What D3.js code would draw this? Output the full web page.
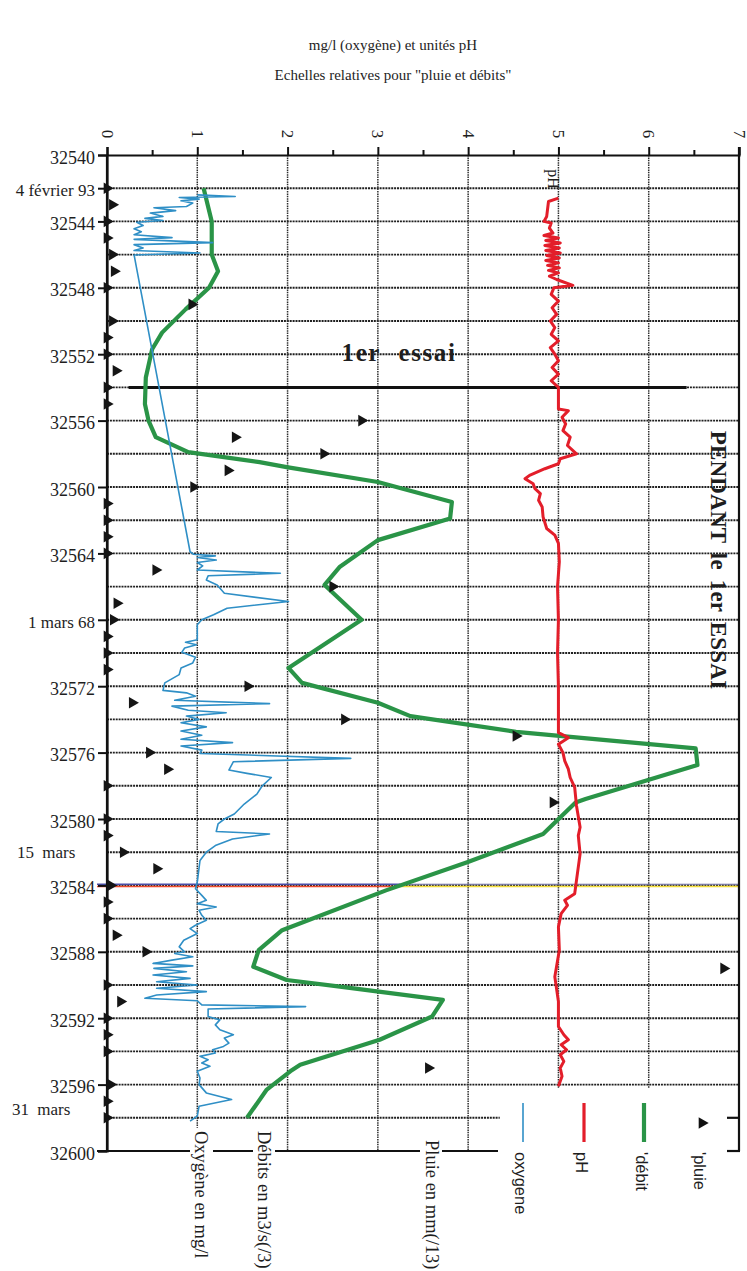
<!DOCTYPE html>
<html>
<head>
<meta charset="utf-8">
<script src="https://cdn.jsdelivr.net/npm/d3@7"></script>
<style>
  html, body { margin: 0; padding: 0; background: #fff; }
  svg { display: block; }
  text { font-family: "Liberation Serif", "Times New Roman", serif; fill: #1e1e1e; }
  .sans { font-family: "Liberation Sans", Arial, sans-serif; }
</style>
</head>
<body>
<svg id="chart" width="747" height="1271"></svg>
<script>
// ---- Data --------------------------------------------------------------
// Horizontal scale (mg/l, pH units, relative rain / flow)
const valueTicks = [0, 1, 2, 3, 4, 5, 6, 7];
const valueTickLabels = ["0", "1", "2", "3", "4", "5", "6", "7"];
const valueMinorTicks = [0.5, 1.5, 2.5, 3.5, 4.5, 5.5, 6.5];

// Vertical scale (day serial numbers)
const dayTicks = [32540, 32542, 32544, 32548, 32552, 32556, 32560, 32564, 32568,
                  32572, 32576, 32580, 32584, 32588, 32592, 32596, 32600];
const dayTickLabels = ["32540", "4 février 93", "32544", "32548", "32552", "32556", "32560",
                       "32564", "1 mars 68", "32572", "32576", "32580", "32584", "32588",
                       "32592", "32596", "32600"];
const dateNoteDays = [32582, 32597.5];
const dateNoteLabels = ["15 mars", "31 mars"];

// Rain (mm / 13), one reading per day
const pluie = [
  [32542,0],[32543,0.06],[32544,0],[32545,0],[32546,0.06],[32547,0.08],[32548,0],
  [32549,0.94],[32550,0.06],[32551,0],[32552,0],[32553,0.10],[32554,0],[32555,0],
  [32556,2.82],[32557,1.42],[32558,2.40],[32559,1.34],[32560,0.96],[32561,0],[32562,0],
  [32563,0],[32564,0],[32565,0.54],[32566,2.50],[32567,0.11],[32568,0.07],[32569,0],
  [32570,0],[32571,0],[32572,1.56],[32573,0.28],[32574,2.63],[32575,4.53],[32576,0.47],
  [32577,0.67],[32578,0],[32579,4.94],[32580,0],[32581,0],[32582,0.18],[32583,0.55],
  [32584,0.04],[32585,0],[32586,0],[32587,0.10],[32588,0.43],[32589,6.83],[32590,0],
  [32591,0.15],[32592,0],[32593,0],[32594,0],[32595,3.56],[32596,0.04],[32597,0],[32598,0]
];

// Flow (m3/s / 3)
const debit = [
  [32542,1.07],[32544,1.16],[32546,1.16],[32547,1.23],[32548,1.13],[32549.3,0.87],
  [32550.7,0.61],[32551.7,0.50],[32553.4,0.43],[32555,0.42],[32556,0.46],[32557,0.54],
  [32557.9,0.90],[32558.5,1.69],[32558.8,1.99],[32559.7,3.00],[32560.9,3.82],[32561.9,3.80],
  [32563.2,3.00],[32564.8,2.58],[32565.9,2.41],[32568,2.82],[32570.9,2.01],[32571.8,2.16],
  [32573,3.00],[32573.8,3.36],[32574.75,4.53],[32575.75,6.52],[32576.75,6.54],[32578.8,5.30],
  [32579,5.19],[32580.9,4.83],[32582.6,3.99],[32584.3,3.09],[32586.7,1.94],[32587.9,1.68],
  [32588.9,1.62],[32589.7,1.99],[32590.1,2.58],[32590.9,3.72],[32591.9,3.60],[32593.3,3.02],
  [32594.8,2.14],[32595.2,2.03],[32596.3,1.77],[32598,1.55]
];

// Dissolved oxygen (mg/l)
const oxygene = [
  [32542.40,1.00],[32542.50,1.42],[32542.56,0.80],[32542.66,1.02],[32542.76,0.82],[32542.90,0.95],
  [32543.10,0.88],[32543.18,0.52],[32543.35,0.76],[32543.50,0.48],[32543.70,0.62],[32543.82,0.42],
  [32543.95,0.62],[32544.05,0.33],[32544.25,0.40],[32544.45,0.30],[32544.62,0.38],[32544.80,0.30],
  [32544.98,0.72],[32545.08,0.30],[32545.28,1.17],[32545.40,0.30],[32545.60,0.40],[32545.75,0.30],
  [32545.90,1.03],[32546.02,0.30],
  [32563.90,0.92],[32564.05,0.96],[32564.15,1.20],[32564.25,1.00],[32564.40,1.21],[32564.55,1.00],
  [32564.75,1.06],[32565.00,1.00],[32565.20,1.92],[32565.35,1.12],[32565.60,1.10],[32565.90,1.22],
  [32566.40,1.30],[32566.90,2.01],[32567.30,1.33],[32567.70,1.18],[32568.00,1.05],[32568.30,1.00],
  [32569.20,1.00],[32569.35,0.87],[32569.50,0.99],[32569.70,0.86],[32569.95,0.83],[32570.25,0.98],
  [32570.60,0.95],[32570.90,0.82],[32571.30,0.80],[32571.80,0.64],[32572.25,0.62],[32572.40,0.88],
  [32572.60,0.98],[32572.85,0.75],[32573.05,1.80],[32573.20,0.72],[32573.45,0.90],[32573.60,1.32],
  [32573.80,0.88],[32574.00,1.02],[32574.20,0.82],[32574.45,1.10],[32574.70,0.82],[32574.95,1.05],
  [32575.20,0.82],[32575.40,1.39],[32575.60,0.82],[32575.85,1.05],[32576.05,1.03],[32576.35,2.70],
  [32576.55,1.40],[32577.05,1.35],[32577.25,1.55],[32577.50,1.82],[32578.00,1.72],[32578.50,1.66],
  [32579.10,1.52],[32579.70,1.41],[32580.00,1.30],[32580.30,1.23],[32580.75,1.21],[32580.90,1.80],
  [32581.20,1.39],[32581.60,1.20],[32582.00,1.10],[32582.50,1.03],[32583.80,1.00],[32584.20,0.98],
  [32584.60,1.05],[32584.90,1.10],[32585.10,1.00],[32585.30,1.21],[32585.50,1.02],[32585.80,1.05],
  [32586.10,1.10],[32586.40,0.98],[32586.60,0.92],[32586.90,1.00],[32587.30,0.85],[32587.70,0.80],
  [32588.00,0.86],[32588.10,0.75],[32588.30,0.95],[32588.50,0.72],[32588.70,0.51],[32588.85,0.95],
  [32589.00,0.52],[32589.20,0.88],[32589.40,0.51],[32589.60,0.92],[32589.80,0.55],[32590.00,1.00],
  [32590.20,0.55],[32590.40,1.10],[32590.60,0.55],[32590.80,0.42],[32590.95,1.00],[32591.20,1.05],
  [32591.30,2.20],[32591.45,1.12],[32591.90,1.12],[32592.10,1.25],[32592.40,1.20],[32592.70,1.25],
  [32593.00,1.40],[32593.20,1.30],[32593.50,1.35],[32593.70,1.29],[32593.90,1.17],[32594.10,1.20],
  [32594.30,1.03],[32594.50,1.12],[32594.70,1.05],[32594.90,1.14],[32595.20,1.00],[32595.60,1.03],
  [32596.00,1.02],[32596.50,1.10],[32596.90,1.38],[32597.30,1.02],[32597.90,1.00],[32598.20,0.92]
];

// pH
const ph = [
  [32542.6,5.00],[32542.8,4.89],[32543.7,4.87],[32544.0,4.84],[32544.1,4.92],[32544.4,4.90],
  [32544.7,4.94],[32544.85,4.84],[32545.0,5.00],[32545.15,4.86],[32545.3,5.02],[32545.45,4.85],
  [32545.6,5.01],[32545.75,4.86],[32545.9,5.02],[32546.05,4.87],[32546.2,5.01],[32546.35,4.86],
  [32546.5,5.00],[32546.65,4.88],[32546.8,5.01],[32546.95,4.89],[32547.1,5.00],[32547.3,4.90],
  [32547.5,4.98],[32547.85,5.16],[32548.0,4.95],[32548.4,4.92],[32548.8,5.00],
  [32549.2,4.93],[32549.6,4.98],[32550.0,4.91],[32550.4,4.96],[32550.8,4.92],[32551.2,5.00],
  [32551.6,4.91],[32552.0,4.96],[32552.4,5.00],[32552.8,4.93],[32553.2,5.00],[32553.6,4.92],
  [32554.0,5.00],[32555.3,5.00],[32555.4,5.11],[32555.8,5.04],[32556.2,5.08],[32556.6,5.05],
  [32557.0,5.13],[32557.5,5.10],[32558.0,5.20],[32558.3,5.02],[32558.6,5.00],[32558.9,4.85],
  [32559.3,4.68],[32559.5,4.63],[32559.8,4.72],[32560.1,4.74],[32560.4,4.80],[32560.8,4.78],
  [32561.2,4.82],[32561.8,4.83],[32562.5,4.87],[32562.9,4.96],[32563.4,5.00],[32564.5,5.01],
  [32566.0,4.99],[32568.0,5.00],[32570.0,4.99],[32572.0,5.00],[32574.8,5.00],[32575.1,5.11],
  [32575.5,5.00],[32576.0,5.05],[32576.5,5.07],[32577.0,5.11],[32577.5,5.13],[32578.1,5.18],
  [32579.2,5.20],[32580.5,5.24],[32581.0,5.22],[32582.1,5.24],[32583.7,5.20],[32584.5,5.18],
  [32584.9,5.07],[32585.2,5.10],[32585.7,5.03],[32586.5,5.00],[32587.9,5.01],[32589.5,4.96],
  [32591.0,5.00],[32592.5,5.00],[32593.0,5.06],[32593.3,5.11],[32593.6,5.03],[32593.9,5.09],
  [32594.2,5.02],[32594.6,5.06],[32595.0,5.02],[32595.5,5.04],[32596.1,5.00]
];

// Start of the first trial
const essaiDay = 32554;
const essaiSpan = [0.24, 6.42];

// Legend entries
const legendKeys = ["oxygene", "pH", "'débit", "'pluie"];
const legendColors = ["#2f8fc6", "#e31e2a", "#2a9447", "#111"];

// ---- Drawing -----------------------------------------------------------
const svg = d3.select("#chart");
const plotLeft = 107, plotRight = 739, plotTop = 155, plotBottom = 1151;

const x = d3.scaleLinear().domain([0, 7]).range([plotLeft, plotRight]);
const y = d3.scaleLinear().domain([32540, 32600]).range([plotTop, plotBottom]);

svg.append("rect").attr("width", 747).attr("height", 1271).attr("fill", "#fff");

// titles
svg.append("text").attr("x", 393).attr("y", 50).attr("text-anchor", "middle")
  .attr("font-size", 15).text("mg/l (oxygène) et unités pH");
svg.append("text").attr("x", 393).attr("y", 80).attr("text-anchor", "middle")
  .attr("font-size", 15).text("Echelles relatives pour \"pluie et débits\"");

// grid
const grid = svg.append("g");
const gridDays = d3.range(32542, 32599, 2);
grid.selectAll("line.h").data(gridDays).join("line")
  .attr("x1", x(0)).attr("x2", d => d === 32598 ? x(4.35) : x(7))
  .attr("y1", d => y(d)).attr("y2", d => y(d))
  .attr("stroke", "#1f1f1f").attr("stroke-width", 1.9)
  .attr("stroke-dasharray", "2,0.9");
grid.selectAll("line.v").data([1, 2, 3, 4, 5, 6]).join("line")
  .attr("x1", d => x(d)).attr("x2", d => x(d))
  .attr("y1", y(32540)).attr("y2", d => d >= 5 ? y(32596.2) : (d === 1 ? y(32598.6) : y(32600)))
  .attr("stroke", "#2e2e2e").attr("stroke-width", 1.5)
  .attr("stroke-dasharray", "1.5,0.9");

// coloured marker line at 32584
const yMark = y(32584);
svg.append("line").attr("x1", 97).attr("x2", 400).attr("y1", yMark - 1.2).attr("y2", yMark - 1.2)
  .attr("stroke", "#4a4ea8").attr("stroke-width", 1.4);
svg.append("line").attr("x1", 400).attr("x2", x(7)).attr("y1", yMark - 1.2).attr("y2", yMark - 1.2)
  .attr("stroke", "#6a6aa0").attr("stroke-width", 1.1);
svg.append("line").attr("x1", 97).attr("x2", 400).attr("y1", yMark + 1).attr("y2", yMark + 1)
  .attr("stroke", "#ef4a2c").attr("stroke-width", 1.5);
svg.append("line").attr("x1", 400).attr("x2", x(7)).attr("y1", yMark + 1).attr("y2", yMark + 1)
  .attr("stroke", "#f3dc3a").attr("stroke-width", 1.5);

// first-trial line
svg.append("line")
  .attr("x1", x(essaiSpan[0])).attr("x2", x(essaiSpan[1]))
  .attr("y1", y(essaiDay)).attr("y2", y(essaiDay))
  .attr("stroke", "#111").attr("stroke-width", 3);
svg.append("text").attr("x", 399).attr("y", 361).attr("text-anchor", "middle")
  .attr("font-size", 25).attr("font-weight", "bold").attr("letter-spacing", 1.6)
  .attr("word-spacing", 10).text("1er essai");
svg.append("text").attr("transform", "translate(718,560) rotate(90)")
  .attr("text-anchor", "middle").attr("dominant-baseline", "central")
  .attr("font-size", 23).attr("font-weight", "bold").attr("letter-spacing", 0.2)
  .attr("word-spacing", 4).text("PENDANT le 1er ESSAI");

// series
const line = d3.line().x(d => x(d[1])).y(d => y(d[0]));
svg.append("path").datum(debit).attr("d", line).attr("fill", "none")
  .attr("stroke", legendColors[2]).attr("stroke-width", 4.2).attr("stroke-linejoin", "round");
svg.append("path").datum(oxygene).attr("d", line).attr("fill", "none")
  .attr("stroke", legendColors[0]).attr("stroke-width", 1.6).attr("stroke-linejoin", "round");
svg.append("path").datum(ph).attr("d", line).attr("fill", "none")
  .attr("stroke", legendColors[1]).attr("stroke-width", 3).attr("stroke-linejoin", "round");

// "pH" tag
svg.append("text").attr("transform", "translate(553,179) rotate(90)")
  .attr("text-anchor", "middle").attr("dominant-baseline", "central")
  .attr("font-size", 16).text("pH");

// frame: left axis, top axis, right border, bottom with label gaps
const frame = svg.append("g").attr("stroke", "#111").attr("stroke-width", 2.2).attr("fill", "none");
frame.append("line").attr("x1", plotLeft).attr("x2", plotLeft).attr("y1", plotTop).attr("y2", plotBottom);
frame.append("line").attr("x1", plotRight).attr("x2", plotRight).attr("y1", plotTop - 8).attr("y2", plotBottom);
frame.append("line").attr("x1", plotRight - 12).attr("x2", plotRight).attr("y1", y(32598)).attr("y2", y(32598));
[[97, 190], [213, 253], [275, 420], [442, 498], [727, 740]].forEach(s => {
  frame.append("line").attr("x1", s[0]).attr("x2", s[1]).attr("y1", plotBottom).attr("y2", plotBottom);
});

// top axis
const topAxis = svg.append("g").attr("transform", `translate(0,${plotTop})`)
  .call(d3.axisTop(x).tickValues(valueTicks).tickSize(8).tickFormat(""));
topAxis.select(".domain").attr("stroke", "#111").attr("stroke-width", 2.2);
topAxis.selectAll(".tick line").attr("stroke", "#111").attr("stroke-width", 2);
const topMinor = svg.append("g").attr("transform", `translate(0,${plotTop})`)
  .call(d3.axisTop(x).tickValues(valueMinorTicks).tickSize(5).tickFormat(""));
topMinor.select(".domain").remove();
topMinor.selectAll(".tick line").attr("stroke", "#111").attr("stroke-width", 2);
svg.append("g").selectAll("text").data(valueTicks).join("text")
  .attr("transform", d => `translate(${x(d)},134) rotate(90)`)
  .attr("text-anchor", "middle").attr("dominant-baseline", "central")
  .attr("font-size", 17).text((d, i) => valueTickLabels[i]);

// left axis
const leftAxis = svg.append("g").attr("transform", `translate(${plotLeft},0)`)
  .call(d3.axisLeft(y).tickValues(dayTicks).tickSize(9).tickPadding(3)
    .tickFormat((d, i) => dayTickLabels[i]));
leftAxis.select(".domain").attr("stroke", "#111").attr("stroke-width", 2.2);
leftAxis.selectAll(".tick line").attr("stroke", "#111").attr("stroke-width", 2);
leftAxis.selectAll(".tick text")
  .attr("font-family", "'Liberation Serif', 'Times New Roman', serif")
  .attr("fill", "#1e1e1e")
  .attr("font-size", (d, i) => /^\d+$/.test(dayTickLabels[i]) ? 18 : 17)
  .attr("dy", "0.45em");
svg.append("g").selectAll("text").data(dateNoteDays).join("text")
  .attr("x", (d, i) => i === 0 ? 17 : 12).attr("y", d => y(d))
  .attr("dy", "0.35em").attr("font-size", 17).attr("word-spacing", 4)
  .text((d, i) => dateNoteLabels[i]);

// rain markers
const tri = d3.symbol().type(d3.symbolTriangle).size(58);
svg.append("g").selectAll("path").data(pluie).join("path")
  .attr("d", tri)
  .attr("transform", d => `translate(${x(d[1])},${y(d[0])}) rotate(90)`)
  .attr("fill", "#151515");

// bottom axis titles
const bottomTitles = [["Oxygène en mg/l", 201, 1131], ["Débits en m3/s(/3)", 264, 1131], ["Pluie en mm(/13)", 432, 1140]];
svg.append("g").selectAll("text").data(bottomTitles).join("text")
  .attr("transform", d => `translate(${d[1]},${d[2]}) rotate(90)`)
  .attr("dominant-baseline", "central").attr("font-size", 18.5)
  .text(d => d[0]);

// legend
const legendX = [523, 584, 644, 702];
const lg = svg.append("g");
[1.6, 3.2, 4.2].forEach((w, i) => {
  lg.append("line").attr("x1", legendX[i]).attr("x2", legendX[i])
    .attr("y1", 1103).attr("y2", 1142)
    .attr("stroke", legendColors[i]).attr("stroke-width", w);
});
lg.append("path").attr("d", tri).attr("transform", `translate(${legendX[3]},1123) rotate(90)`)
  .attr("fill", legendColors[3]);
lg.selectAll("text").data(legendKeys).join("text")
  .attr("class", "sans")
  .attr("transform", (d, i) => `translate(${legendX[i] - 2},1152) rotate(90)`)
  .attr("dominant-baseline", "central").attr("font-size", 16.5)
  .text(d => d);
</script>
</body>
</html>
